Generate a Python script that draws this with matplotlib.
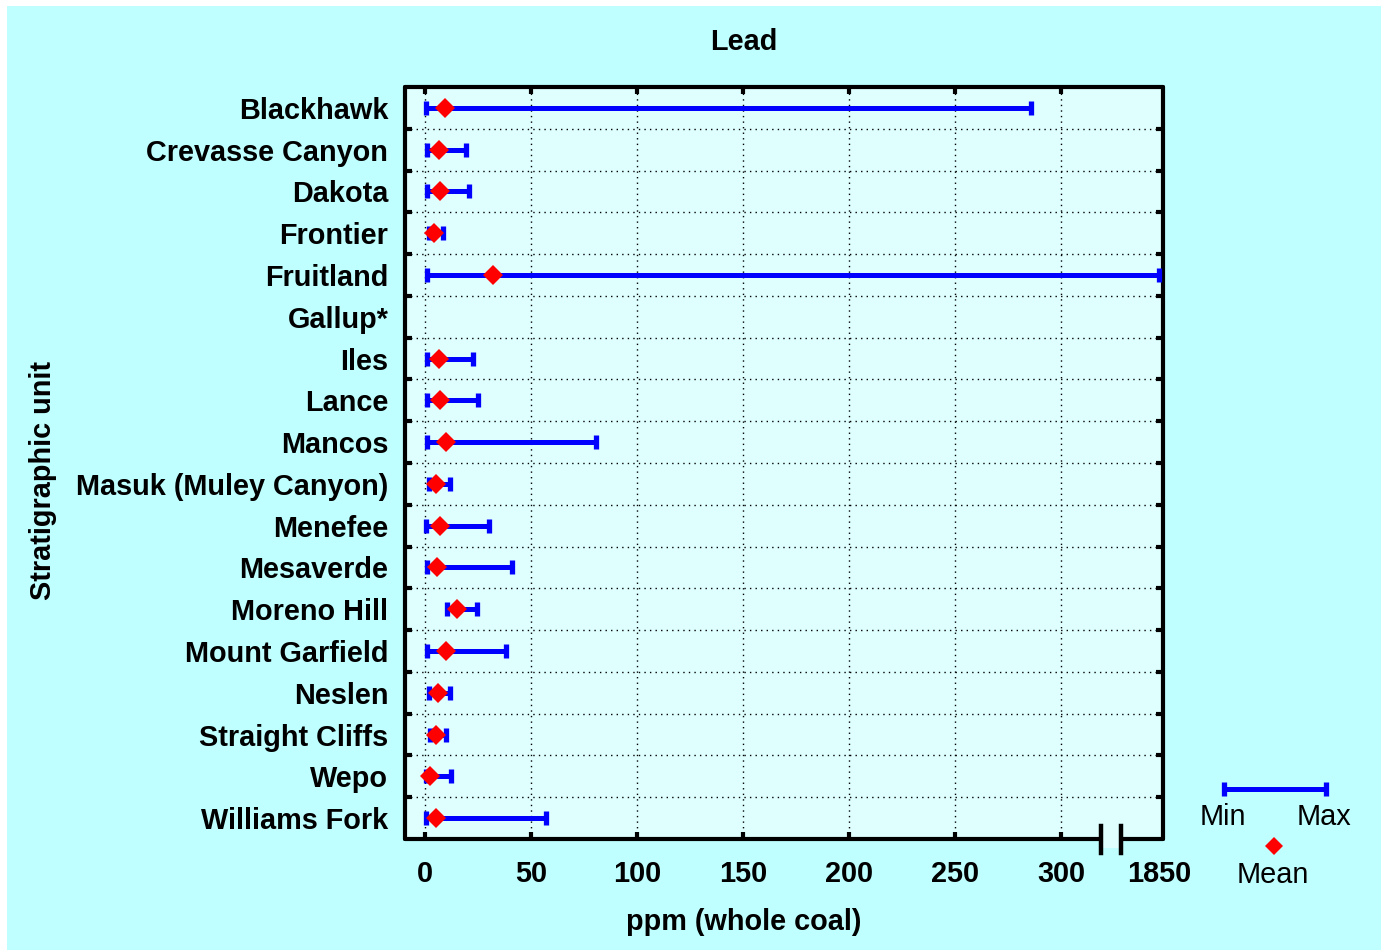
import numpy as np
import matplotlib
matplotlib.use("Agg")
import matplotlib.pyplot as plt
from matplotlib.lines import Line2D
from matplotlib.patches import Rectangle

plt.rcParams['font.family'] = ['Liberation Sans', 'DejaVu Sans']

units = ["Blackhawk", "Crevasse Canyon", "Dakota", "Frontier", "Fruitland",
         "Gallup*", "Iles", "Lance", "Mancos", "Masuk (Muley Canyon)", "Menefee",
         "Mesaverde", "Moreno Hill", "Mount Garfield", "Neslen", "Straight Cliffs",
         "Wepo", "Williams Fork"]
pb_min = [0.5, 1, 1, 2, 1, np.nan, 1, 1, 1, 2, 0.5, 1, 10.5, 1, 2, 2.4, 0.5, 0.5]
pb_mean = [9.4, 6.6, 7, 4.2, 32, np.nan, 6.6, 7, 10, 5.2, 7, 5.7, 15.2, 9.8, 6, 5.2, 2.4, 5.2]
pb_max = [286, 19.3, 20.8, 8.5, 1850, np.nan, 22.6, 25, 80.7, 11.8, 30, 41, 24.5, 38, 11.8, 10, 12.3, 57]
x_ticks = [0, 50, 100, 150, 200, 250, 300, 1850]

FS = 20.8

# Broken axis: linear up to 320, then 320..1850 compressed into a short stretch
BREAK = 320.0
SQUEEZE = 26.4 / 1530.0


def fwd(v):
    v = np.asarray(v, dtype=float)
    return np.where(v <= BREAK, v, BREAK + (v - BREAK) * SQUEEZE)


def inv(u):
    u = np.asarray(u, dtype=float)
    return np.where(u <= BREAK, u, BREAK + (u - BREAK) / SQUEEZE)


FIG_BG = "#BFFFFF"
AX_BG = "#DFFFFF"

fig = plt.figure(figsize=(13.9, 9.5), dpi=100, facecolor="white")
fig.patches.append(Rectangle((7 / 1390, 0), (1381 - 7) / 1390, 1 - 6 / 950,
                             transform=fig.transFigure, facecolor=FIG_BG,
                             edgecolor="none", zorder=-10))

L, R, T, B = 405, 1163, 87, 839
ax = fig.add_axes([L / 1390, 1 - B / 950, (R - L) / 1390, (B - T) / 950])
ax.set_facecolor(AX_BG)
ax.set_xscale("function", functions=(fwd, inv))
ax.set_xlim(-9.5, float(inv(348.1)))
n = len(units)
ax.set_ylim(n - 0.5, -0.5)

y = np.arange(n)
for i in range(n):
    if np.isnan(pb_mean[i]):
        continue
    ax.errorbar(pb_mean[i], y[i],
                xerr=[[pb_mean[i] - pb_min[i]], [pb_max[i] - pb_mean[i]]],
                fmt="none", ecolor="#0000FF", elinewidth=3.6, capsize=4.8,
                capthick=3.8, zorder=3, clip_on=False)
    ax.plot(pb_mean[i], y[i], marker="D", color="#FF0000", markersize=10,
            markeredgewidth=0, linestyle="none", zorder=4, clip_on=False)

# Ticks and grid
ax.set_xticks(x_ticks)
ax.set_xticklabels([str(t) for t in x_ticks], fontsize=FS, fontweight="bold")
ax.set_yticks(y)
ax.set_yticklabels(units, fontsize=FS, fontweight="bold")
ax.set_yticks(np.arange(n - 1) + 0.5, minor=True)
ax.tick_params(axis="y", which="major", length=0, pad=12)
ax.tick_params(axis="y", which="minor", direction="in", length=5, width=3,
               left=True, right=True)
ax.tick_params(axis="x", which="major", direction="in", length=5, width=3,
               top=True, bottom=True, pad=15)
ax.xaxis.set_minor_locator(matplotlib.ticker.NullLocator())
for t in ax.xaxis.get_major_ticks():
    if t.get_loc() == 1850:
        t.tick1line.set_visible(False)
        t.tick2line.set_visible(False)
for v in x_ticks[:-1]:
    ax.axvline(v, color="black", linestyle=(0, (1, 3)), linewidth=1, zorder=1)
ax.grid(axis="y", which="minor", color="black", linestyle=(0, (1, 3)),
        linewidth=1, zorder=1)
for s in ax.spines.values():
    s.set_linewidth(3)
    s.set_capstyle("round")

# Axis break marks on the bottom spine
xa, xb = (1101 - L) / (R - L), (1121 - L) / (R - L)
ax.add_patch(Rectangle((xa, -0.012), xb - xa, 0.024, transform=ax.transAxes,
                       facecolor=AX_BG, edgecolor="none", clip_on=False, zorder=5))
for xx in (xa, xb):
    ax.add_line(Line2D([xx, xx], [-0.018, 0.017], transform=ax.transAxes,
                       color="black", linewidth=3.2, clip_on=False, zorder=6))

fig.text(744 / 1390, 1 - 42 / 950, "Lead", ha="center", va="center",
         fontsize=FS, fontweight="bold")
fig.text(744 / 1390, 1 - 922 / 950, "ppm (whole coal)", ha="center", va="center",
         fontsize=FS, fontweight="bold")
fig.text(43 / 1390, 1 - 480 / 950, "Stratigraphic unit", ha="center", va="center",
         rotation=90, fontsize=FS, fontweight="bold")

# Key
px = lambda x_, y_: (x_ / 1390, 1 - y_ / 950)
(x1, y1), (x2, _) = px(1224, 789), px(1326, 789)
fig.add_artist(Line2D([x1, x2], [y1, y1], transform=fig.transFigure,
                      color="#0000FF", linewidth=3.6))
for xx in (x1, x2):
    fig.add_artist(Line2D([xx], [y1], transform=fig.transFigure, marker="|",
                          markersize=9.6, markeredgewidth=3.8, color="#0000FF"))
mx, my = px(1274, 846)
fig.add_artist(Line2D([mx], [my], transform=fig.transFigure, marker="D",
                      markersize=9, markeredgewidth=0, color="#FF0000"))
fig.text(*px(1223, 817), "Min", ha="center", va="center", fontsize=FS)
fig.text(*px(1324, 817), "Max", ha="center", va="center", fontsize=FS)
fig.text(*px(1273, 875), "Mean", ha="center", va="center", fontsize=FS)

fig.savefig("out.png", dpi=100, facecolor=fig.get_facecolor())
